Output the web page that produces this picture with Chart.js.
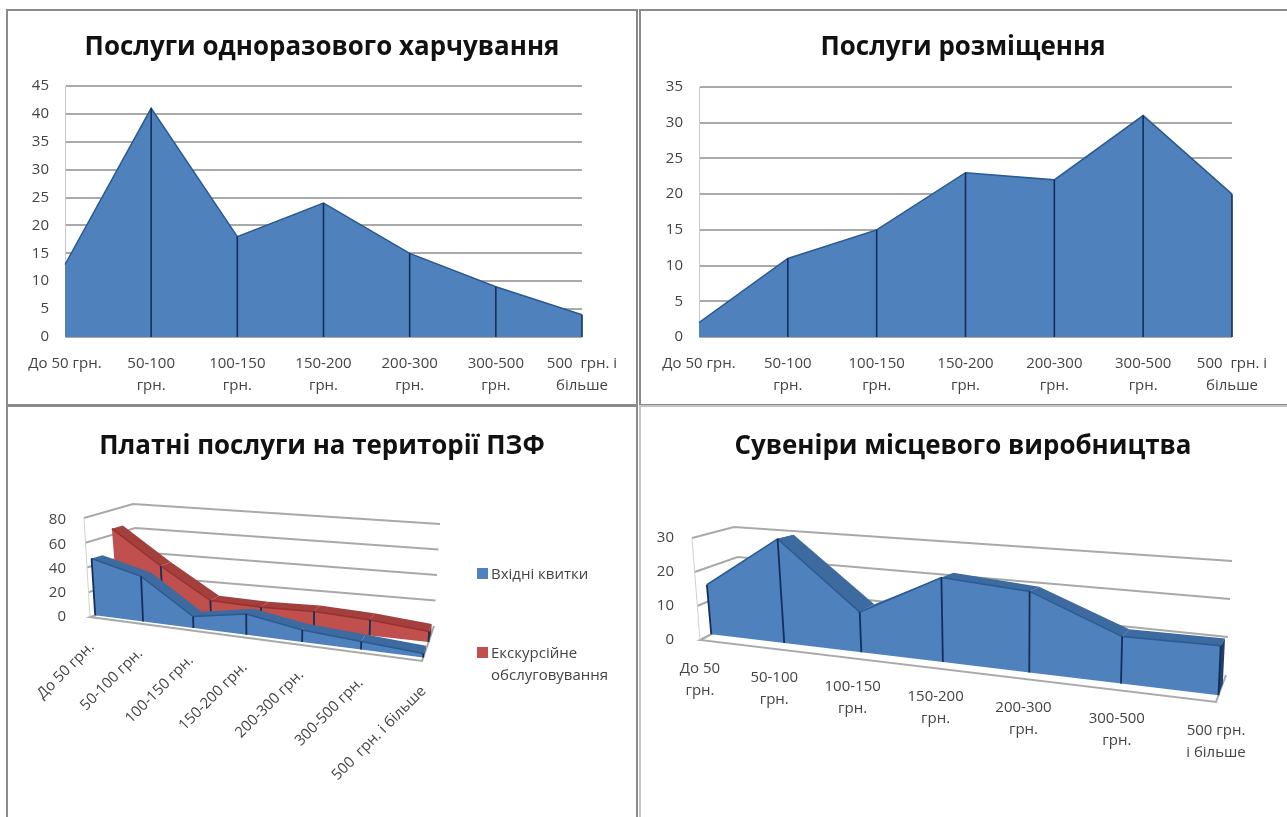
<!DOCTYPE html>
<html>
<head>
<meta charset="utf-8">
<title>Послуги</title>
<script src="https://cdn.jsdelivr.net/npm/chart.js@4"></script>
<style>
  html, body { margin: 0; background: #fff; }
  #page { position: relative; width: 1287px; height: 817px; overflow: hidden; filter: blur(0.4px); }
  canvas { position: absolute; left: 0; top: 0; }
  .frame { position: absolute; box-sizing: border-box; border: 2px solid #8a8a8a; }
  .title { position: absolute; text-align: center; font: 700 27px "Open Sans", sans-serif; color: #111; white-space: nowrap; transform: scaleX(0.96); }
  .legend { position: absolute; font: 15px "Open Sans", sans-serif; color: #444; line-height: 22px; }
  .legend i { position: absolute; left: -14px; top: 6px; width: 11px; height: 11px; }
</style>
</head>
<body>
<div id="page"></div>
<script>
// categories
const catsFlat = [['До 50 грн.'], ['50-100', 'грн.'], ['100-150', 'грн.'], ['150-200', 'грн.'], ['200-300', 'грн.'], ['300-500', 'грн.'], ['500  грн. і', 'більше']];
const catsOneLine = ['До 50 грн.', '50-100 грн.', '100-150 грн.', '150-200 грн.', '200-300 грн.', '300-500 грн.', '500  грн. і більше'];
const catsSouvenir = [['До 50', 'грн.'], ['50-100', 'грн.'], ['100-150', 'грн.'], ['150-200', 'грн.'], ['200-300', 'грн.'], ['300-500', 'грн.'], ['500 грн.', 'і більше']];

// values
const mealValues = [13, 41, 18, 24, 15, 9, 4];
const lodgingValues = [2, 11, 15, 23, 22, 31, 20];
const ticketValues = [46, 36, 9, 16, 9, 6, 3];
const excursionValues = [65, 38, 14, 13, 14, 12, 8];
const souvenirValues = [15, 30, 11, 22, 20, 11, 11];

const seriesNames = ['Вхідні квитки', 'Екскурсійне обслуговування'];
const titles = ['Послуги одноразового харчування', 'Послуги розміщення', 'Платні послуги на території ПЗФ', 'Сувеніри місцевого виробництва'];

const BLUE = '#4f81bd', BLUE_SIDE = '#3d6a9f', BLUE_EDGE = '#2a5a94';
const RED = '#c0504d', RED_SIDE = '#a33f3c', RED_EDGE = '#98302d';
const DROP = '#14305a', GRID = '#a9a9a9', TEXT = '#444';
const FONT = { family: '"Open Sans", sans-serif', size: 15 };

const page = document.getElementById('page');

function addBox(cls, css, text) {
  const el = document.createElement('div');
  el.className = cls;
  el.style.cssText = css;
  if (text) el.textContent = text;
  page.appendChild(el);
  return el;
}

addBox('frame', 'left:6px;top:9px;width:632px;height:397px');
addBox('frame', 'left:639px;top:9px;width:650px;height:397px');
addBox('frame', 'left:6px;top:405px;width:632px;height:420px');
addBox('frame', 'left:639px;top:405px;width:650px;height:420px;border-color:#c4c4c4');

addBox('title', 'left:6px;width:632px;top:26px', titles[0]);
addBox('title', 'left:639px;width:648px;top:26px', titles[1]);
addBox('title', 'left:6px;width:632px;top:425px', titles[2]);
addBox('title', 'left:639px;width:648px;top:425px', titles[3]);

// legend of the two-series chart
[[seriesNames[0], BLUE, 477, 562], [seriesNames[1], RED, 477, 641]].forEach(([name, color, x, y]) => {
  const el = addBox('legend', `left:${x + 14}px;top:${y}px;width:130px`, name);
  const sw = document.createElement('i');
  sw.style.background = color;
  el.appendChild(sw);
});

function newCanvas() {
  const c = document.createElement('canvas');
  c.width = 1287;
  c.height = 817;
  c.style.width = '1287px';
  c.style.height = '817px';
  page.appendChild(c);
  return c;
}

// vertical lines from each point down to the axis, flat charts
const dropLines = {
  id: 'dropLines',
  afterDatasetsDraw(chart) {
    const { ctx, scales } = chart;
    const base = scales.y.getPixelForValue(0);
    ctx.save();
    ctx.strokeStyle = DROP;
    ctx.lineWidth = 1.6;
    chart.getDatasetMeta(0).data.forEach((p, i) => {
      if (i === 0) return;
      ctx.beginPath();
      ctx.moveTo(p.x, p.y);
      ctx.lineTo(p.x, base);
      ctx.stroke();
    });
    ctx.restore();
  }
};

function flatChart(labels, values, max, box) {
  new Chart(newCanvas(), {
    type: 'line',
    data: {
      labels,
      datasets: [{
        data: values,
        fill: 'origin',
        backgroundColor: BLUE,
        borderColor: BLUE_EDGE,
        borderWidth: 1.5,
        pointRadius: 0,
        tension: 0
      }]
    },
    options: {
      responsive: false,
      animation: false,
      events: [],
      layout: { padding: { left: box.left - 60, top: box.top, right: 1287 - box.right, bottom: 817 - box.bottom - 60 } },
      plugins: { legend: { display: false }, tooltip: { enabled: false } },
      scales: {
        x: {
          offset: false,
          grid: { display: false },
          border: { display: false },
          afterFit(s) { s.height = 60; },
          ticks: { color: TEXT, font: { ...FONT, lineHeight: 1.45 }, padding: 8, maxRotation: 0, autoSkip: false }
        },
        y: {
          min: 0, max,
          afterFit(s) { s.width = 60; },
          grid: { color: GRID, lineWidth: 2, drawTicks: false },
          border: { color: '#c8c8c8' },
          ticks: { stepSize: 5, color: TEXT, font: FONT, padding: 16 }
        }
      }
    },
    plugins: [dropLines]
  });
}

// The tilted charts: the library's scales give u/v, the box corners turn them into page pixels.
function project(box, u, v, d) {
  const w = u / (u + box.persp * (1 - u));
  const mix = (a, b, t) => [a[0] + (b[0] - a[0]) * t, a[1] + (b[1] - a[1]) * t];
  const bottom = mix(mix(box.fbl, box.fbr, w), mix(box.bbl, box.bbr, w), d);
  const top = mix(mix(box.ftl, box.ftr, w), mix(box.btl, box.btr, w), d);
  return mix(bottom, top, v);
}

function poly(ctx, pts, fill) {
  ctx.beginPath();
  pts.forEach((p, i) => (i ? ctx.lineTo(p[0], p[1]) : ctx.moveTo(p[0], p[1])));
  ctx.closePath();
  ctx.fillStyle = fill;
  ctx.fill();
}

const tilted = {
  id: 'tilted',
  afterDatasetsUpdate(chart, args, opts) {
    const { x, y } = chart.scales;
    chart.data.datasets.forEach((ds, di) => {
      const meta = chart.getDatasetMeta(di);
      meta.faces = meta.data.map((p, i) => {
        const u = (x.getPixelForTick(i) - x.left) / (x.right - x.left);
        const v = (y.bottom - y.getPixelForValue(ds.data[i])) / (y.bottom - y.top);
        const front = project(opts.box, u, v, ds.depth[0]);
        p.x = front[0];
        p.y = front[1];
        return { front, back: project(opts.box, u, v, ds.depth[1]), base: project(opts.box, u, 0, ds.depth[0]), backBase: project(opts.box, u, 0, ds.depth[1]) };
      });
    });
  },
  beforeDraw(chart, args, opts) {
    const { x } = chart.scales;
    x.getLabelItems().forEach((item, i) => {
      const u = (x.getPixelForTick(i) - x.left) / (x.right - x.left);
      const at = project(opts.box, u, 0, 0);
      item.options.translation = [at[0] + opts.labelShift[0], at[1] + opts.labelShift[1]];
    });
  },
  beforeDatasetsDraw(chart, args, opts) {
    const { ctx } = chart;
    const box = opts.box;
    const line = pts => {
      ctx.beginPath();
      pts.forEach((p, i) => (i ? ctx.lineTo(p[0], p[1]) : ctx.moveTo(p[0], p[1])));
      ctx.stroke();
    };
    ctx.save();
    ctx.strokeStyle = GRID;
    ctx.lineWidth = 2;
    chart.scales.y.ticks.forEach(t => {
      const v = t.value / chart.scales.y.max;
      if (v > 0) line([project(box, 0, v, 0), project(box, 0, v, 1), project(box, 1, v, 1)]);
    });
    line([project(box, 0, 0, 1), project(box, 0, 0, 0), project(box, 1, 0, 0), project(box, 1, 0, 1)]);
    ctx.strokeStyle = '#d0d0d0';
    ctx.lineWidth = 1;
    line([project(box, 0, 0, 0), project(box, 0, 1, 0)]);
    ctx.restore();
  },
  beforeDatasetDraw(chart, args) {
    const { ctx } = chart;
    const ds = chart.data.datasets[args.index];
    const f = args.meta.faces;
    f.slice(1).forEach((b, i) => poly(ctx, [f[i].front, b.front, b.back, f[i].back], ds.sideColor));
    const end = f[f.length - 1];
    poly(ctx, [end.front, end.back, end.backBase, end.base], ds.endColor);
    poly(ctx, [...f.map(q => q.front), ...f.map(q => q.base).reverse()], ds.faceColor);
  },
  afterDatasetDraw(chart, args) {
    const { ctx } = chart;
    ctx.save();
    ctx.strokeStyle = DROP;
    ctx.lineWidth = 1.8;
    args.meta.faces.forEach((q, i) => {
      if (i === 0 && args.index === 1) return;
      ctx.beginPath();
      ctx.moveTo(q.front[0], q.front[1]);
      ctx.lineTo(q.base[0], q.base[1]);
      ctx.stroke();
    });
    ctx.restore();
  }
};

function tiltedChart(labels, datasets, max, step, plot, box, labelShift, rotation) {
  const axisH = 817 - plot.bottom;
  new Chart(newCanvas(), {
    type: 'line',
    data: {
      labels,
      datasets: datasets.map(d => ({ ...d, fill: false, clip: false, borderWidth: 1.5, pointRadius: 0, tension: 0 }))
    },
    options: {
      responsive: false,
      animation: false,
      events: [],
      layout: { padding: { left: plot.left - 50, top: plot.top, right: 1287 - plot.right, bottom: 0 } },
      plugins: { legend: { display: false }, tooltip: { enabled: false }, tilted: { box, labelShift } },
      scales: {
        x: {
          offset: false,
          grid: { display: false },
          border: { display: false },
          afterFit(s) { s.height = axisH; },
          ticks: { color: TEXT, font: { ...FONT, lineHeight: 1.45 }, autoSkip: false, minRotation: rotation, maxRotation: rotation }
        },
        y: {
          min: 0, max,
          afterFit(s) { s.width = 50; },
          grid: { display: false },
          border: { display: false },
          ticks: { stepSize: step, color: TEXT, font: FONT, padding: 10 }
        }
      }
    },
    plugins: [tilted]
  });
}

flatChart(catsFlat, mealValues, 45, { left: 65, top: 86, right: 582, bottom: 337 });
flatChart(catsFlat, lodgingValues, 35, { left: 699, top: 87, right: 1232, bottom: 337 });

tiltedChart(catsOneLine, [
  { label: seriesNames[0], data: ticketValues, depth: [0.1, 0.32], faceColor: BLUE, sideColor: BLUE_SIDE, endColor: '#2f5a8f', borderColor: BLUE_EDGE },
  { label: seriesNames[1], data: excursionValues, depth: [0.54, 0.76], faceColor: RED, sideColor: RED_SIDE, endColor: '#8c2f2c', borderColor: RED_EDGE }
], 80, 20, { left: 84, top: 520, right: 422, bottom: 617 }, {
  persp: 1.17,
  fbl: [90, 617], fbr: [422, 661], bbl: [142, 600], bbr: [434, 626],
  ftl: [84, 518], ftr: [428, 551], btl: [133, 504], btr: [440, 524]
}, [-6, 20], 45);

tiltedChart(catsSouvenir, [
  { label: 'Сувеніри', data: souvenirValues, depth: [0.25, 0.68], faceColor: BLUE, sideColor: BLUE_SIDE, endColor: '#1f3f6e', borderColor: BLUE_EDGE }
], 30, 10, { left: 692, top: 538, right: 1216, bottom: 640 }, {
  persp: 1.19,
  fbl: [700, 640], fbr: [1216, 702], bbl: [745, 617], bbr: [1226, 675],
  ftl: [692, 538], ftr: [1222, 560], btl: [734, 527], btr: [1232, 561]
}, [0, 18], 0);
</script>
</body>
</html>
